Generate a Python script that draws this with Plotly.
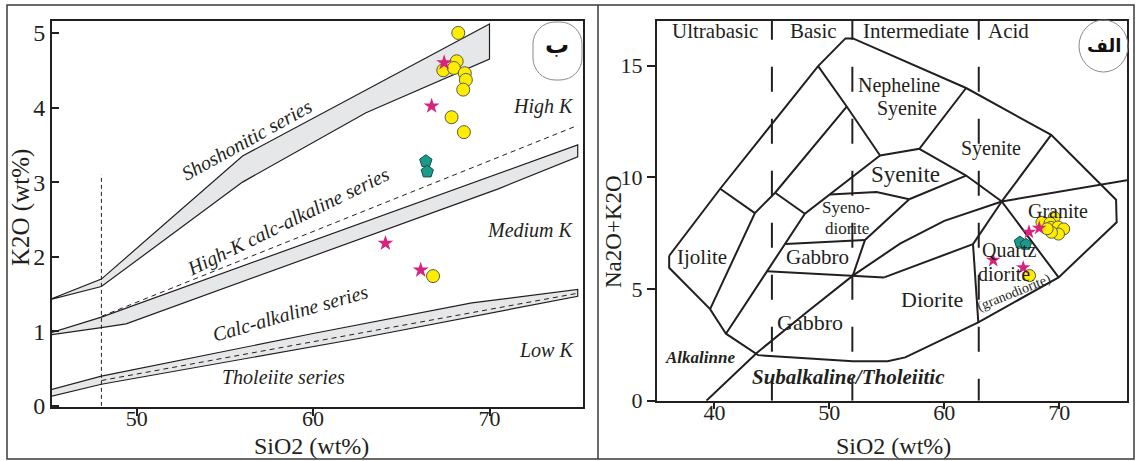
import plotly.graph_objects as go

W, H = 1136, 461
INK = "#231f20"
SERIF = "Liberation Serif, Times New Roman, Tinos, serif"


def pxx(v):
    return v / W


def pxy(v):
    return 1 - v / H


# ---------------- Left panel: K2O vs SiO2 (Peccerillo & Taylor) ----------------
shosh_upper_x = [45, 48, 56, 70]
shosh_upper_y = [1.42, 1.70, 3.35, 5.12]
shosh_lower_x = [45, 48, 56, 63, 70]
shosh_lower_y = [1.42, 1.60, 3.00, 3.93, 4.65]

hk_upper_x = [45, 48, 75]
hk_upper_y = [0.97, 1.19, 3.50]
hk_lower_x = [45, 48, 49.4, 70.5, 75]
hk_lower_y = [0.95, 1.05, 1.10, 2.91, 3.34]
hk_dash_x = [48, 75]
hk_dash_y = [1.20, 3.76]

th_upper_x = [45, 48, 60, 69, 75]
th_upper_y = [0.21, 0.40, 0.97, 1.38, 1.56]
th_lower_x = [45, 48, 62.5, 75]
th_lower_y = [0.12, 0.29, 0.90, 1.47]
th_dash_x = [48, 75]
th_dash_y = [0.34, 1.51]

v48_x = [48, 48]
v48_y = [0, 3.1]

k_circle_x = [68.23, 68.14, 67.38, 67.98, 68.60, 68.66, 68.51, 67.85, 68.55, 66.80]
k_circle_y = [5.00, 4.62, 4.50, 4.53, 4.46, 4.37, 4.24, 3.87, 3.67, 1.74]
k_star_x = [67.43, 66.72, 64.10, 66.10]
k_star_y = [4.60, 4.02, 2.18, 1.82]
k_pent_x = [66.39, 66.47]
k_pent_y = [3.28, 3.14]

left_labels = ["Shoshonitic series", "High-K calc-alkaline series", "Calc-alkaline series", "Tholeiite series"]
left_label_x = [56.2, 58.6, 58.7, 58.3]
left_label_y = [3.57, 2.47, 1.24, 0.39]
left_label_ang = [-29, -26, -16, 0]
k_field_labels = ["High K", "Medium K", "Low K"]
k_field_y = [4.02, 2.36, 0.75]

# ---------------- Right panel: TAS (Middlemost) ----------------
tas_outer_x = [36.06, 40.5, 49.02, 51.4, 52.05, 61.9, 69.3, 74.95, 75.0, 69.95, 62.96, 56.6, 55.07, 52.04, 43.8, 41.0, 39.62, 36.06, 36.06]
tas_outer_y = [6.49, 9.49, 14.98, 16.22, 16.22, 14.0, 11.9, 9.0, 7.99, 5.52, 3.51, 1.94, 1.77, 1.77, 2.04, 3.0, 4.1, 5.95, 6.49]

l1_x = [40.5, 43.52]
l1_y = [9.49, 8.40]
l2_x = [51.51, 45.28, 43.52, 39.62]
l2_y = [13.17, 9.31, 8.40, 4.1]
l3_x = [49.02, 51.51, 54.41]
l3_y = [14.98, 13.17, 10.98]
l4_x = [54.41, 57.83, 61.9]
l4_y = [10.98, 11.28, 14.0]
l5_x = [57.83, 61.9, 65.0, 69.95]
l5_y = [11.28, 10.08, 8.92, 5.52]
l6_x = [65.0, 69.3]
l6_y = [8.92, 11.9]
l7_x = [54.41, 47.87, 41.0]
l7_y = [10.98, 8.37, 3.0]
l8_x = [45.28, 47.87]
l8_y = [9.31, 8.37]
l9_x = [50.05, 54.1, 56.95]
l9_y = [9.23, 9.34, 9.02]
l10_x = [56.95, 61.9]
l10_y = [9.02, 10.08]
l11_x = [46.2, 53.1]
l11_y = [7.02, 7.2]
l12_x = [53.1, 56.95]
l12_y = [7.2, 9.02]
l13_x = [53.1, 52.04]
l13_y = [7.2, 5.6]
l14_x = [44.56, 52.04, 54.77]
l14_y = [5.80, 5.6, 5.52]
l15_x = [54.77, 62.5]
l15_y = [5.52, 7.01]
l16_x = [62.5, 62.96]
l16_y = [7.01, 3.51]
l17_x = [62.5, 65.0]
l17_y = [7.01, 8.92]
alk_x = [39.3, 43.7, 48.0, 52.04, 56.15, 60.0, 65.0, 70.0, 75.9]
alk_y = [0.0, 2.15, 3.95, 5.6, 7.03, 8.05, 8.92, 9.35, 9.87]

div_x = [45, 52, 63]
div_top = 17.28

tas_circle_x = [68.5, 69.57, 69.2, 69.27, 69.9, 70.39, 69.94, 69.33, 68.95, 67.42]
tas_circle_y = [7.99, 8.21, 7.95, 7.76, 7.78, 7.69, 7.46, 7.54, 7.70, 5.60]
tas_star_x = [67.37, 68.26, 64.26, 66.87]
tas_star_y = [7.55, 7.73, 6.29, 5.96]
tas_pent_x = [66.58, 67.1]
tas_pent_y = [7.1, 7.0]

head_labels = ["Ultrabasic", "Basic", "Intermediate", "Acid"]
head_x = [40.04, 48.6, 57.53, 65.63]
head_y = 16.54

rock_labels = ["Nepheline", "Syenite", "Syenite", "Syenite", "Syeno-", "diorite", "Gabbro", "Ijolite",
               "Gabbro", "Diorite", "Granite", "Quartz", "diorite"]
rock_x = [56.06, 56.77, 64.1, 56.6, 51.48, 51.54, 48.97, 38.93, 48.28, 58.97, 69.9, 65.7, 65.2]
rock_y = [14.13, 13.1, 11.28, 10.12, 8.63, 7.73, 6.45, 6.42, 3.51, 4.53, 8.49, 6.73, 5.69]
rock_size = [20, 20, 20, 23, 17, 17, 21, 21, 22, 22, 20, 20, 20]

fig = go.Figure()


def add_line(xs, ys, ax, width=2.0, dash="solid", color=INK):
    fig.add_trace(go.Scatter(x=xs, y=ys, mode="lines", xaxis=ax[0], yaxis=ax[1],
                             line=dict(color=color, width=width, dash=dash),
                             hoverinfo="skip", showlegend=False))


def add_band(ux, uy, lx, ly):
    xs = list(ux) + list(reversed(lx)) + [ux[0]]
    ys = list(uy) + list(reversed(ly)) + [uy[0]]
    fig.add_trace(go.Scatter(x=xs, y=ys, mode="lines", fill="toself", fillcolor="#e6e7e8",
                             xaxis="x", yaxis="y", line=dict(color=INK, width=1.2),
                             hoverinfo="skip", showlegend=False))


L = ("x", "y")
R = ("x2", "y2")

add_band(shosh_upper_x, shosh_upper_y, shosh_lower_x, shosh_lower_y)
add_band(hk_upper_x, hk_upper_y, hk_lower_x, hk_lower_y)
add_band(th_upper_x, th_upper_y, th_lower_x, th_lower_y)
add_line(hk_dash_x, hk_dash_y, L, 1.0, "5px,4px")
add_line(th_dash_x, th_dash_y, L, 1.0, "5px,4px")
add_line(v48_x, v48_y, L, 1.0, "4px,3px")


def add_markers(xs, ys, ax, symbol, size, color, lcolor, lwidth):
    fig.add_trace(go.Scatter(x=xs, y=ys, mode="markers", xaxis=ax[0], yaxis=ax[1],
                             marker=dict(symbol=symbol, size=size, color=color,
                                         line=dict(color=lcolor, width=lwidth)),
                             hoverinfo="skip", showlegend=False))


add_markers(k_circle_x, k_circle_y, L, "circle", 13, "#ffed00", "#5a5a4a", 1)
add_markers(k_star_x, k_star_y, L, "star", 12, "#d8237d", "#d8237d", 0)
add_markers(k_pent_x, k_pent_y, L, "pentagon", 13, "#1b9a8b", "#0f4f47", 1)

# TAS lines
for dx in div_x:
    add_line([dx, dx], [div_top, 0], R, 2.0, "25px,27px")
add_line(tas_outer_x, tas_outer_y, R)
for xs, ys in [(l1_x, l1_y), (l2_x, l2_y), (l3_x, l3_y), (l4_x, l4_y), (l5_x, l5_y), (l6_x, l6_y),
               (l7_x, l7_y), (l8_x, l8_y), (l9_x, l9_y), (l10_x, l10_y), (l11_x, l11_y),
               (l12_x, l12_y), (l13_x, l13_y), (l14_x, l14_y), (l15_x, l15_y), (l16_x, l16_y),
               (l17_x, l17_y), (alk_x, alk_y)]:
    add_line(xs, ys, R)

add_markers(tas_circle_x, tas_circle_y, R, "circle", 12, "#ffed00", "#5a5a4a", 1)
add_markers(tas_star_x, tas_star_y, R, "star", 11, "#d8237d", "#d8237d", 0)
add_markers(tas_pent_x, tas_pent_y, R, "pentagon", 12, "#1b9a8b", "#0f4f47", 1)

ann = []


def A(text, x, y, xref, yref, size, angle=0, xanchor="center", family=SERIF, style="normal", color=INK):
    ann.append(dict(text=text, x=x, y=y, xref=xref, yref=yref, textangle=angle, showarrow=False,
                    xanchor=xanchor, yanchor="middle",
                    font=dict(family=family, size=size, color=color, style=style)))


for t, x, y, a in zip(left_labels, left_label_x, left_label_y, left_label_ang):
    A(t, x, y, "x", "y", 20, a, style="italic")
for t, y in zip(k_field_labels, k_field_y):
    A(t, 74.9, y, "x", "y", 20, xanchor="right", style="italic")
for t, x in zip(head_labels, head_x):
    A(t, x, head_y, "x2", "y2", 21)
for t, x, y, s in zip(rock_labels, rock_x, rock_y, rock_size):
    A(t, x, y, "x2", "y2", s)
A("(granodiorite)", 66.05, 4.84, "x2", "y2", 14, -22)
A("<b><i>Alkalinne</i></b>", 38.76, 1.94, "x2", "y2", 17)
A("<b><i>Subalkaline/Tholeiitic</i></b>", 51.68, 1.04, "x2", "y2", 21)

# axis titles
A("K2O (wt%)", pxx(21), pxy(208), "paper", "paper", 25, -90)
A("SiO2 (wt%)", pxx(311), pxy(446), "paper", "paper", 24)
A("Na2O+K2O", pxx(613), pxy(232), "paper", "paper", 23, -90)
A("SiO2 (wt%)", pxx(893), pxy(446), "paper", "paper", 24)
# panel letters
A("<b>ب</b>", pxx(557), pxy(45), "paper", "paper", 24, family="DejaVu Sans", color="#111")
A("<b>الف</b>", pxx(1104), pxy(45), "paper", "paper", 18, family="DejaVu Sans", color="#111")


def capsule_path(x0, y0, x1, y1, r):
    k = 0.552 * r

    def P(x, y):
        return f"{pxx(x):.5f},{pxy(y):.5f}"
    return (f"M {P(x0 + r, y0)} L {P(x1 - r, y0)} "
            f"C {P(x1 - r + k, y0)} {P(x1, y0 + r - k)} {P(x1, y0 + r)} "
            f"L {P(x1, y1 - r)} "
            f"C {P(x1, y1 - r + k)} {P(x1 - r + k, y1)} {P(x1 - r, y1)} "
            f"L {P(x0 + r, y1)} "
            f"C {P(x0 + r - k, y1)} {P(x0, y1 - r + k)} {P(x0, y1 - r)} "
            f"L {P(x0, y0 + r)} "
            f"C {P(x0, y0 + r - k)} {P(x0 + r - k, y0)} {P(x0 + r, y0)} Z")


shapes = [
    dict(type="rect", xref="paper", yref="paper", x0=pxx(7), x1=pxx(1134), y0=pxy(459), y1=pxy(5),
         line=dict(color="#3a3a3a", width=1.5)),
    dict(type="line", xref="paper", yref="paper", x0=pxx(598), x1=pxx(598), y0=pxy(459), y1=pxy(5),
         line=dict(color="#3a3a3a", width=1.5)),
    dict(type="path", xref="paper", yref="paper", path=capsule_path(533, 22, 582, 80, 22),
         line=dict(color="#8a8a8a", width=1)),
    dict(type="circle", xref="paper", yref="paper", x0=pxx(1079), x1=pxx(1128), y0=pxy(72), y1=pxy(20),
         line=dict(color="#8a8a8a", width=1)),
]

axis_common = dict(showgrid=False, zeroline=False, showline=True, mirror=True, linecolor=INK,
                   linewidth=2, tickcolor=INK, tickwidth=1.5)

fig.update_layout(
    width=W, height=H, autosize=False, margin=dict(l=0, r=0, t=0, b=0, autoexpand=False),
    paper_bgcolor="white", plot_bgcolor="white", showlegend=False,
    font=dict(family=SERIF, color=INK),
    xaxis=dict(domain=[pxx(52), pxx(583)], range=[45.2, 75.3], tickvals=[50, 60, 70], anchor="y",
               ticks="outside", ticklen=7, ticklabelstandoff=-16,
               tickfont=dict(family=SERIF, size=22, color=INK), **axis_common),
    yaxis=dict(domain=[pxy(407), pxy(21)], range=[-0.015, 5.16], tickvals=[0, 1, 2, 3, 4, 5], anchor="x",
               ticks="inside", ticklen=7, ticklabelstandoff=0,
               tickfont=dict(family=SERIF, size=24, color=INK), **axis_common),
    xaxis2=dict(domain=[pxx(657), pxx(1127)], range=[35, 75.9], tickvals=[40, 50, 60, 70], anchor="y2",
                ticks="outside", ticklen=6, ticklabelstandoff=-15,
                tickfont=dict(family=SERIF, size=22, color=INK), **axis_common),
    yaxis2=dict(domain=[pxy(400.7), pxy(21)], range=[0, 17], tickvals=[0, 5, 10, 15], anchor="x2",
                ticks="outside", ticklen=8, tickfont=dict(family=SERIF, size=22, color=INK), **axis_common),
    annotations=ann, shapes=shapes,
)

fig.write_html("out.html", config={"responsive": False}, default_width="1136px", default_height="461px")
